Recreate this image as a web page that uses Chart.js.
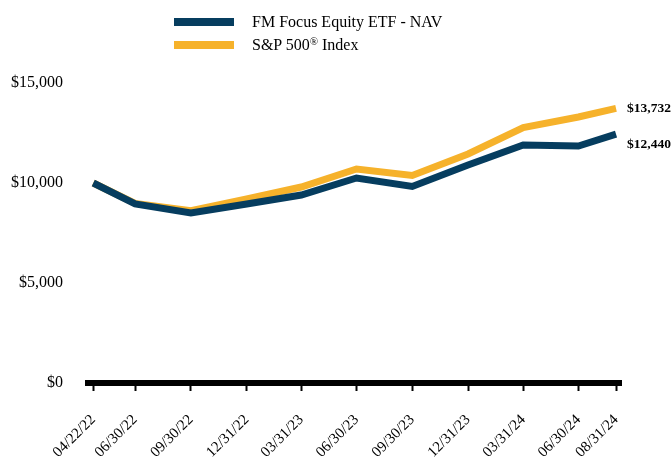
<!DOCTYPE html>
<html>
<head>
<meta charset="utf-8">
<script src="https://cdn.jsdelivr.net/npm/chart.js@4.4.1/dist/chart.umd.min.js"></script>
<style>
  body { margin: 0; background: #fff; }
  #wrap { position: relative; width: 672px; height: 459px; }
  #legend { position: absolute; left: 174px; top: 10px; font-family: "Liberation Serif", "Times New Roman", serif; font-size: 16px; color: #000; }
  .row { display: flex; align-items: center; height: 23px; }
  .swatch { width: 60px; height: 8px; margin-right: 18px; }
  sup { font-size: 11px; line-height: 0; position: relative; top: -4px; vertical-align: baseline; }
</style>
</head>
<body>
<div id="wrap">
  <canvas id="growthChart" width="672" height="459"></canvas>
  <div id="legend">
    <div class="row"><span class="swatch" style="background:#063d5f"></span>FM Focus Equity ETF - NAV</div>
    <div class="row"><span class="swatch" style="background:#f6b22b"></span>S&amp;P 500<sup>®</sup>&nbsp;Index</div>
  </div>
</div>
<script>
// data
const dateLabels = ['04/22/22', '06/30/22', '09/30/22', '12/31/22', '03/31/23', '06/30/23', '09/30/23', '12/31/23', '03/31/24', '06/30/24', '08/31/24'];
const navValues = [10000, 8950, 8500, 8950, 9400, 10250, 9830, 10900, 11900, 11850, 12440];
const spValues = [10000, 8980, 8620, 9200, 9800, 10700, 10380, 11450, 12770, 13300, 13732];
const yTicks = [0, 5000, 10000, 15000];

const navColor = '#063d5f';
const spColor = '#f6b22b';

// tanggal -> jumlah hari sejak tanggal pertama (sumbu x proporsional waktu)
function toDay(s) {
    const [m, d, y] = s.split('/').map(Number);
    return Date.UTC(2000 + y, m - 1, d) / 86400000;
}
const day0 = toDay(dateLabels[0]);
const dayOffsets = dateLabels.map(s => toDay(s) - day0);

const money = v => '$' + v.toLocaleString('en-US');

// label nilai akhir di ujung kanan garis
const endLabels = {
    id: 'endLabels',
    afterDatasetsDraw(chart) {
        const ctx = chart.ctx;
        const shiftY = [10, 0];
        ctx.save();
        ctx.font = 'bold 13.5px "Liberation Serif", serif';
        ctx.fillStyle = '#000';
        ctx.textBaseline = 'middle';
        chart.data.datasets.forEach((ds, i) => {
            const meta = chart.getDatasetMeta(i);
            const pt = meta.data[meta.data.length - 1];
            const last = ds.data[ds.data.length - 1];
            ctx.fillText(money(last.y), pt.x + 11, pt.y + shiftY[i]);
        });
        ctx.restore();
    }
};

const ctx = document.getElementById('growthChart');
new Chart(ctx, {
    type: 'line',
    data: {
        datasets: [
            {
                label: 'FM Focus Equity ETF - NAV',
                data: navValues.map((v, i) => ({ x: dayOffsets[i], y: v })),
                borderColor: navColor,
                borderWidth: 7,
                borderJoinStyle: 'miter',
                pointRadius: 0,
                tension: 0
            },
            {
                label: 'S&P 500® Index',
                data: spValues.map((v, i) => ({ x: dayOffsets[i], y: v })),
                borderColor: spColor,
                borderWidth: 7,
                borderJoinStyle: 'miter',
                pointRadius: 0,
                tension: 0
            }
        ]
    },
    options: {
        responsive: false,
        animation: false,
        layout: { padding: { top: 83, right: 51, bottom: 0, left: 0 } },
        plugins: {
            legend: { display: false },
            tooltip: { enabled: false }
        },
        scales: {
            x: {
                type: 'linear',
                min: -8.7,
                max: 870.2,
                afterBuildTicks: scale => { scale.ticks = dayOffsets.map(v => ({ value: v })); },
                afterFit: scale => { scale.height = 76; },
                grid: { drawOnChartArea: false, drawTicks: true, tickLength: 8, tickWidth: 2, tickColor: '#000' },
                border: { display: true, width: 6, color: '#000' },
                ticks: {
                    autoSkip: false,
                    maxRotation: 45,
                    minRotation: 45,
                    padding: 20,
                    color: '#000',
                    font: { family: '"Liberation Serif", serif', size: 15 },
                    callback: (value, index) => dateLabels[index]
                }
            },
            y: {
                min: 0,
                max: 15000,
                afterBuildTicks: scale => { scale.ticks = yTicks.map(v => ({ value: v })); },
                afterFit: scale => { scale.width = 88; },
                grid: { display: false },
                border: { display: false },
                ticks: {
                    padding: 17,
                    color: '#000',
                    font: { family: '"Liberation Serif", serif', size: 16 },
                    callback: v => money(v)
                }
            }
        }
    },
    plugins: [endLabels]
});
</script>
</body>
</html>
